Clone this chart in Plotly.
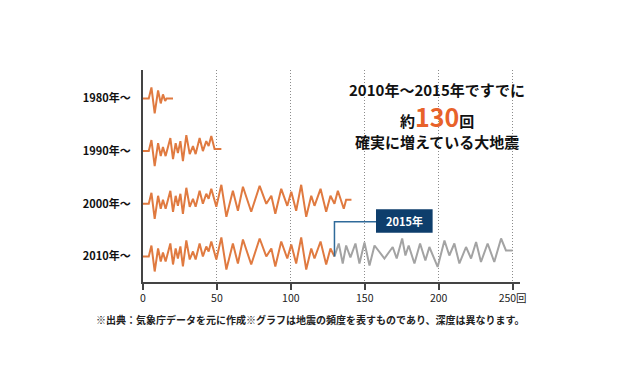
import plotly.graph_objects as go

# ---------------- data ----------------
decades = ["1980年～", "1990年～", "2000年～", "2010年～"]
row_index = [3, 2, 1, 0]

x_tick_vals = [0, 50, 100, 150, 200, 250]
x_tick_text = ["0", "50", "100", "150", "200", "250回"]

# shared seismograph-like pattern (x in 回, amplitude in px-ish units)
quake_x = [0, 3.9, 5.7, 7.9, 10.2, 12.0, 13.5, 15.3, 18.5, 20.3,
           22.1, 23.6, 25.3, 27.0, 29.3, 31.6, 33.8, 35.6, 38.3, 40.5,
           42.8, 44.4, 46.2, 49.6, 53.0, 56.4, 60.8, 64.2, 67.6, 73.2,
           78.9, 83.4, 86.8, 89.5, 93.5, 97.6, 100.3, 103.6, 107.0, 110.4,
           113.8, 116.0, 120.1, 123.9, 126.8, 129.5]
quake_amp = [0, 0, 11, -15, 8, -5, 4, -5, 13, -8,
             8, -2, 10, -10, 16, -3, 5, -3, 13, 0,
             10, 5, 15, -3, 19, -13, 13, -7, 17, -8,
             18, 0, 8, -10, 15, -2, 12, -7, 19, -13,
             8, -2, 15, -8, 8, 0]

# how each decade ends
last_1980 = 13.5
tail_1980_x = [15.0, 16.0, 20.3]
tail_1980_amp = [-2.5, 0, 0]

last_1990 = 46.2
tail_1990_x = [48.4, 53.0]
tail_1990_amp = [2, 2]

tail_2000_x = [131.8, 135.8, 137.4, 141.0]
tail_2000_amp = [13, -5, 4, 4]

split_2015 = 129.5  # 2010 series: orange until 2015, grey after
grey_2010_x = [129.5, 132.4, 135.1, 137.4, 140.3, 143.7, 146.4, 149.8, 153.2, 156.6,
               163.3, 168.9, 171.6, 175.3, 177.5, 179.7, 183.6, 187.4, 191.0, 193.7,
               199.3, 203.9, 207.2, 210.6, 214.0, 218.5, 221.9, 225.3, 228.6, 233.1,
               237.6, 242.2, 245.5, 250.0]
grey_2010_amp = [0, 13, -7, 11, -1, 13, -7, 14, -9, 11,
                 -2, 9.5, -2, 18, 1, 11, -7, 13, -4, 9.5,
                 -10.5, 16, 1, 13, -7, 9.5, -2, 14.5, -5.5, 13,
                 -5.5, 18, 6, 6]

# ---------------- styling ----------------
ORANGE = "#e07a40"
GREY = "#a3a3a3"
NAVY = "#0e3e6c"
LINK = "#2f6a9a"
FONT = "Noto Sans CJK JP"
PX_PER_ROW = 52.7


def to_y(row, amps):
    return [row + a / PX_PER_ROW for a in amps]


def part(limit):
    xs = [x for x in quake_x if x <= limit]
    return xs, quake_amp[:len(xs)]


fig = go.Figure()

# 1980
xs, am = part(last_1980)
fig.add_trace(go.Scatter(x=xs + tail_1980_x, y=to_y(row_index[0], am + tail_1980_amp)))
# 1990
xs, am = part(last_1990)
fig.add_trace(go.Scatter(x=xs + tail_1990_x, y=to_y(row_index[1], am + tail_1990_amp)))
# 2000
fig.add_trace(go.Scatter(x=quake_x + tail_2000_x, y=to_y(row_index[2], quake_amp + tail_2000_amp)))
# 2010 (orange part until 2015)
xs, am = part(split_2015)
fig.add_trace(go.Scatter(x=xs, y=to_y(row_index[3], am)))
for tr in fig.data:
    tr.update(mode="lines", line=dict(color=ORANGE, width=2), hoverinfo="skip", showlegend=False)
# 2010 grey part after 2015
fig.add_trace(go.Scatter(x=grey_2010_x, y=to_y(row_index[3], grey_2010_amp), mode="lines",
                         line=dict(color=GREY, width=2), hoverinfo="skip", showlegend=False))

# 2015 marker: connector + label box
box_x0, box_x1 = 157.6, 195.9
box_y0, box_y1 = 0.452, 0.896
link_y = 0.66
fig.add_shape(type="path",
              path=f"M {box_x0} {link_y} L {split_2015} {link_y} L {split_2015} {row_index[3]}",
              line=dict(color=LINK, width=1.5))
fig.add_shape(type="rect", x0=box_x0, x1=box_x1, y0=box_y0, y1=box_y1,
              fillcolor=NAVY, line=dict(color=NAVY, width=0))
fig.add_annotation(x=(box_x0 + box_x1) / 2, y=(box_y0 + box_y1) / 2, text="<b>2015年</b>",
                   showarrow=False, font=dict(family=FONT, size=11, color="white"))

# headline
hx = 199
fig.add_annotation(x=hx, y=3.16, text="<b>2010年～2015年ですでに</b>", showarrow=False,
                   font=dict(family=FONT, size=15, color="#111"))
fig.add_annotation(x=hx, y=2.67,
                   text="<b>約<span style='font-size:25px;color:#e8622a'>130</span>回</b>",
                   showarrow=False, font=dict(family=FONT, size=15, color="#111"))
fig.add_annotation(x=hx, y=2.18, text="<b>確実に増えている大地震</b>", showarrow=False,
                   font=dict(family=FONT, size=15, color="#111"))

# source note
fig.add_annotation(xref="paper", yref="paper", x=0.4456, y=-0.175, yanchor="middle",
                   text="<b>※出典：気象庁データを元に作成※グラフは地震の頻度を表すものであり、深度は異なります。</b>",
                   showarrow=False, font=dict(family=FONT, size=10, color="#222"))

fig.update_layout(
    width=620, height=380,
    margin=dict(l=135, r=108, t=62, b=106),
    paper_bgcolor="white", plot_bgcolor="white",
    font=dict(family=FONT, color="#222"),
    xaxis=dict(range=[0, 255], tickvals=x_tick_vals, ticktext=x_tick_text,
               showgrid=True, gridcolor="#8c8c8c", griddash="1px,2px", gridwidth=1,
               zeroline=False, showline=True, linecolor="#444", linewidth=1.5,
               ticks="outside", ticklen=6, tickcolor="#444", tickwidth=1.5,
               tickfont=dict(family=FONT, size=10.5, color="#222")),
    yaxis=dict(range=[-0.484, 3.539], tickvals=row_index, ticktext=decades,
               showgrid=False, zeroline=False, showline=True, linecolor="#444", linewidth=2,
               ticks="", ticklabelstandoff=8,
               tickfont=dict(family=FONT, size=11, color="#111", weight="bold")),
)

fig.write_html("out.html")
